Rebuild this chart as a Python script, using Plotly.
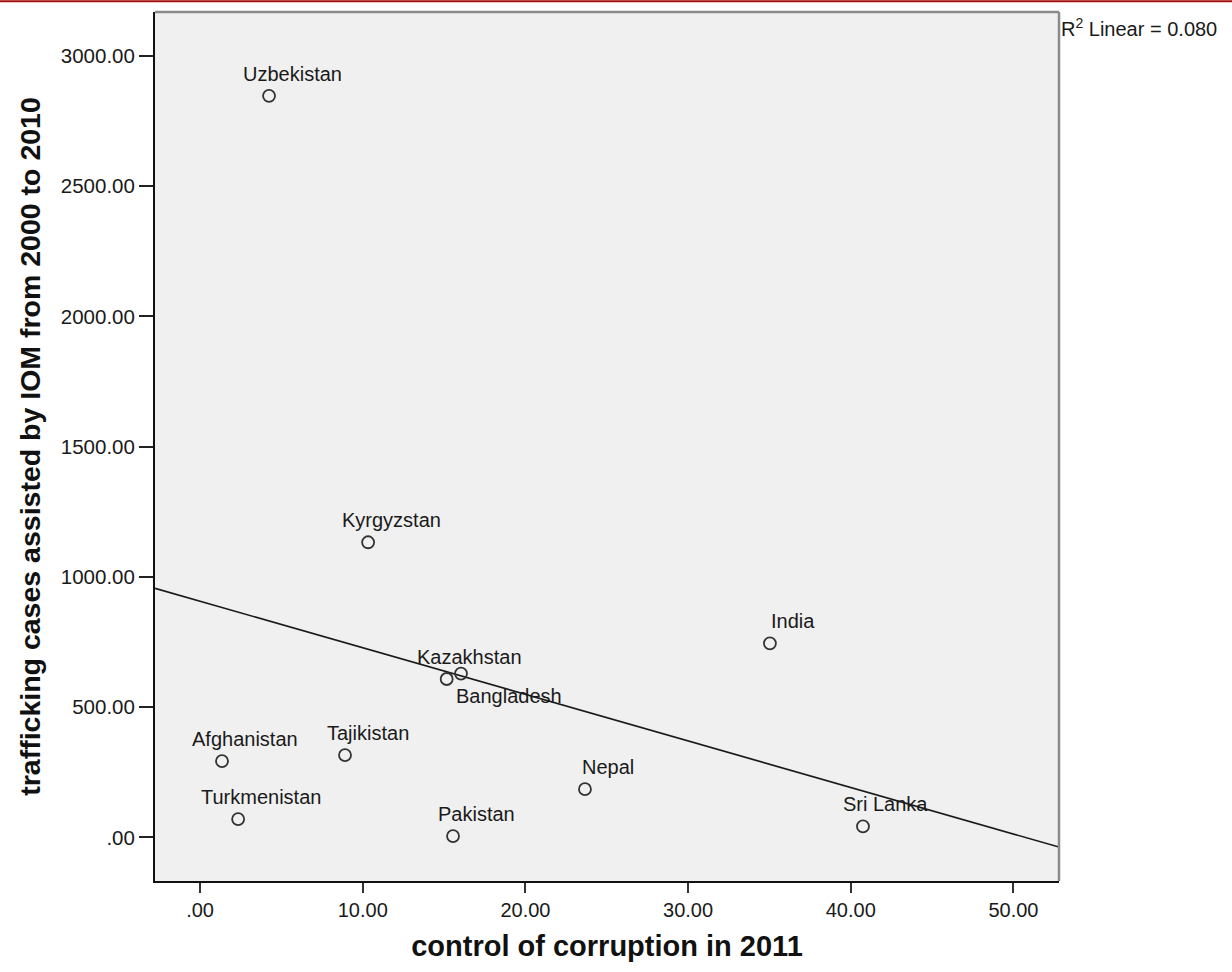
import numpy as np
import plotly.graph_objects as go

# Countries and their values
countries = ["Uzbekistan", "Kyrgyzstan", "India", "Kazakhstan", "Bangladesh",
             "Afghanistan", "Tajikistan", "Turkmenistan", "Pakistan", "Nepal", "Sri Lanka"]
corruption_control = [4.24, 10.33, 35.03, 15.16, 16.04, 1.35, 8.91, 2.34, 15.55, 23.66, 40.75]
trafficking_cases = [2847, 1133, 745, 608, 629, 293, 316, 70, 5, 185, 42]

x_ticks = [0, 10, 20, 30, 40, 50]
x_tick_text = [".00", "10.00", "20.00", "30.00", "40.00", "50.00"]
y_ticks = [0, 500, 1000, 1500, 2000, 2500, 3000]
y_tick_text = [".00", "500.00", "1000.00", "1500.00", "2000.00", "2500.00", "3000.00"]

x_range = [-2.77, 52.8]
y_range = [-167.6, 3169]

x = np.array(corruption_control)
y = np.array(trafficking_cases)

# Least-squares fit line and its R-squared
slope, intercept = np.polyfit(x, y, 1)
r2 = np.corrcoef(x, y)[0, 1] ** 2
fit_x = np.array(x_range)
fit_y = intercept + slope * fit_x

FONT = "Liberation Sans, Arial, sans-serif"
INK = "#1a1a1a"

fig = go.Figure()

fig.add_trace(go.Scatter(
    x=fit_x, y=fit_y, mode="lines",
    line=dict(color="#1a1a1a", width=1.6),
    hoverinfo="skip", showlegend=False,
))

fig.add_trace(go.Scatter(
    x=x, y=y, mode="markers",
    marker=dict(symbol="circle-open", size=12, color="#333333", line=dict(width=1.8)),
    text=countries, hoverinfo="text", showlegend=False,
))

# Point labels (Bangladesh is nudged below to avoid Kazakhstan)
for name, xv, yv in zip(countries, corruption_control, trafficking_cases):
    below = name == "Bangladesh"
    fig.add_annotation(
        x=xv, y=yv, xref="x", yref="y", text=name, showarrow=False,
        xshift=48 if below else 23, yshift=-22 if below else 22,
        font=dict(family=FONT, size=20, color=INK),
    )

fig.add_annotation(
    xref="paper", yref="paper", x=1.0, y=1.0, xanchor="left", yanchor="top",
    text=f"R<sup>2</sup> Linear = {r2:.3f}", showarrow=False, xshift=0, yshift=-1,
    font=dict(family=FONT, size=20, color=INK),
)

# Frame: grey top/right edges, black left/bottom axes
fig.add_shape(type="line", xref="paper", yref="paper", x0=0, x1=1, y0=1, y1=1,
              line=dict(color="#8a8a8a", width=2.5))
fig.add_shape(type="line", xref="paper", yref="paper", x0=1, x1=1, y0=0, y1=1,
              line=dict(color="#8a8a8a", width=2.5))
# Dark red rule along the top of the page
fig.add_shape(type="line", xref="paper", yref="paper", x0=-0.2, x1=1.25,
              y0=1.0125, y1=1.0125, line=dict(color="#a30d0d", width=2))

fig.update_xaxes(
    range=x_range, tickmode="array", tickvals=x_ticks, ticktext=x_tick_text,
    showgrid=False, zeroline=False, showline=True, linecolor="#111111", linewidth=2,
    ticks="outside", ticklen=10, tickwidth=2, tickcolor="#333333",
    tickfont=dict(family=FONT, size=20, color=INK), automargin=False,
    title=dict(text="<b>control of corruption in 2011</b>", standoff=16,
               font=dict(family=FONT, size=29, color="#111111")),
)
fig.update_yaxes(
    range=y_range, tickmode="array", tickvals=y_ticks, ticktext=y_tick_text,
    showgrid=False, zeroline=False, showline=True, linecolor="#111111", linewidth=2,
    ticks="outside", ticklen=14, tickwidth=2, tickcolor="#222222",
    tickfont=dict(family=FONT, size=20.5, color=INK), automargin=False,
    title=dict(text="<b>trafficking cases assisted by IOM from 2000 to 2010</b>", standoff=12,
               font=dict(family=FONT, size=28.5, color="#111111")),
)

fig.update_layout(
    width=1232, height=972,
    margin=dict(l=155, r=173, t=12, b=91),
    plot_bgcolor="#f0f0f0", paper_bgcolor="white",
)

fig.write_html("out.html")
